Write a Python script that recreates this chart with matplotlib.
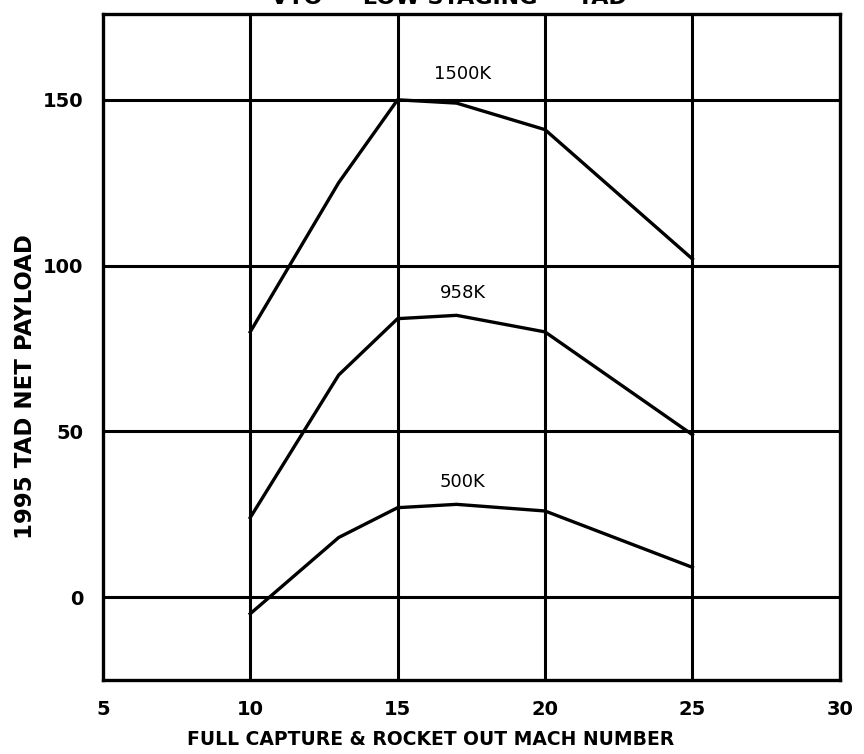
import matplotlib
matplotlib.use("Agg")
import matplotlib.pyplot as plt

# Payload curves vs. staging Mach number
mach = [10, 13, 15, 17, 20, 25]
payload_1500k = [80, 125, 150, 149, 141, 102]
payload_958k = [24, 67, 84, 85, 80, 49]
payload_500k = [-5, 18, 27, 28, 26, 9]

curve_labels = ["1500K", "958K", "500K"]
label_pos = [(17.2, 155), (17.2, 89), (17.2, 32)]

x_ticks = [5, 10, 15, 20, 25, 30]
y_ticks = [0, 50, 100, 150]

plt.rcParams['font.family'] = ['DejaVu Sans']

fig = plt.figure(figsize=(8.64, 7.54), dpi=100)
ax = fig.add_axes([0.119, 0.098, 0.853, 0.884])

ax.set_xlim(5, 30)
ax.set_ylim(-25, 176)

for xv in x_ticks[1:-1]:
    ax.axvline(xv, color='black', lw=2.2, zorder=1)
for yv in y_ticks:
    ax.axhline(yv, color='black', lw=2.2, zorder=1)

for series in (payload_1500k, payload_958k, payload_500k):
    ax.plot(mach, series, color='black', lw=2.4, zorder=2)

for text, (xv, yv) in zip(curve_labels, label_pos):
    ax.text(xv, yv, text, ha='center', va='bottom', fontsize=13)

for s in ax.spines.values():
    s.set_linewidth(2.4)

ax.set_xticks(x_ticks)
ax.set_yticks(y_ticks)
ax.set_xticklabels([str(v) for v in x_ticks], fontsize=14, fontweight='bold')
ax.set_yticklabels([str(v) for v in y_ticks], fontsize=14, fontweight='bold')
ax.tick_params(length=0, pad=14)

ax.set_xlabel("FULL CAPTURE & ROCKET OUT MACH NUMBER", fontsize=13.5,
              fontweight='bold')
ax.xaxis.set_label_coords(0.445, -0.075)
ax.set_ylabel("1995 TAD NET PAYLOAD", fontsize=16.5, fontweight='bold',
              va='center')
ax.yaxis.set_label_coords(-0.105, 0.44)

fig.text(0.52, 0.995, "VTO  -  LOW STAGING  -  TAD", ha='center',
         va='baseline', fontsize=16, fontweight='bold')

fig.savefig("out.png", dpi=100, facecolor='white')
